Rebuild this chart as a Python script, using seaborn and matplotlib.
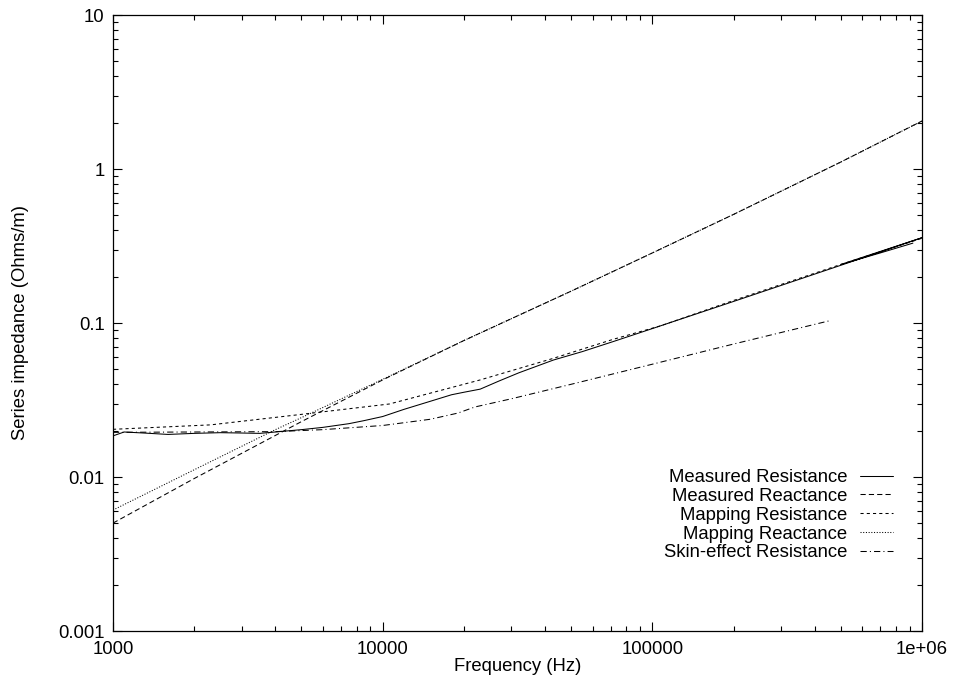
import numpy as np
import pandas as pd
import matplotlib
matplotlib.use("Agg")
import matplotlib.pyplot as plt
import seaborn as sns
from matplotlib.ticker import LogLocator, NullFormatter

# ---- data ----
meas_res_f = [1000, 1100, 1300, 1600, 2000, 2500, 3000, 3500, 4000, 5000, 6000,
              7500, 8500, 10000, 12000, 15000, 18000, 20000, 23000, 27000, 32000,
              43000, 55000, 72000, 100000, 200000, 500000, 1000000,
              500000, 700000, 925000]
meas_res_v = [0.0185, 0.0196, 0.0193, 0.0189, 0.0192, 0.0194, 0.0193, 0.0192, 0.0196,
              0.0203, 0.0210, 0.0222, 0.0232, 0.0247, 0.0275, 0.0310, 0.0342, 0.0355,
              0.0372, 0.0420, 0.0475, 0.0575, 0.0652, 0.0760, 0.0920, 0.1380, 0.2370,
              0.3580, 0.2400, 0.2850, 0.3300]

meas_x_f = [1000, 2000, 5000, 10000, 20000, 50000, 100000, 200000, 500000, 1000000]
meas_x_v = [0.00502, 0.00977, 0.0229, 0.0427, 0.0769, 0.161, 0.285, 0.507, 1.11, 2.05]

map_res_f = [1000, 2300, 4800, 10600, 23000, 43000, 71500, 107000, 200000, 500000, 1000000]
map_res_v = [0.0204, 0.0218, 0.0253, 0.0298, 0.0427, 0.0590, 0.0783, 0.0957, 0.1400,
             0.2400, 0.3550]

map_x_f = [1000, 2000, 4000, 5000, 10000, 20000, 50000, 100000, 200000, 500000, 1000000]
map_x_v = [0.0061, 0.01114, 0.0203, 0.0243, 0.0431, 0.0769, 0.161, 0.285, 0.507, 1.11, 2.05]

skin_f = [1000, 2000, 4000, 6000, 10000, 15000, 19000, 22000, 30000, 50000, 100000,
          200000, 455000]
skin_v = [0.0195, 0.0196, 0.0197, 0.0203, 0.0216, 0.0237, 0.0260, 0.0285, 0.0322,
          0.0400, 0.0540, 0.0730, 0.1035]

x_ticks = [1000, 10000, 100000, 1000000]
x_tick_labels = ["1000", "10000", "100000", "1e+06"]
y_ticks = [0.001, 0.01, 0.1, 1, 10]
y_tick_labels = ["0.001", "0.01", "0.1", "1", "10"]

series = [
    ("Measured Resistance", meas_res_f, meas_res_v, "-"),
    ("Measured Reactance", meas_x_f, meas_x_v, (0, (5, 3))),
    ("Mapping Resistance", map_res_f, map_res_v, (0, (3, 3))),
    ("Mapping Reactance", map_x_f, map_x_v, (0, (1, 1.6))),
    ("Skin-effect Resistance", skin_f, skin_v, (0, (6, 3, 1, 3))),
]

sns.set_theme(style="white")
plt.rcParams["font.family"] = ["Liberation Sans", "DejaVu Sans"]
plt.rcParams["lines.scale_dashes"] = True
plt.rcParams["text.color"] = "black"
plt.rcParams["axes.labelcolor"] = "black"
plt.rcParams["xtick.color"] = "black"
plt.rcParams["ytick.color"] = "black"

FS = 13.3

fig = plt.figure(figsize=(9.59, 6.79), dpi=100)
ax = fig.add_axes([113 / 959, 1 - 631 / 679, (922 - 113) / 959, (631 - 15) / 679])

lw = 0.75
for name, f, v, ls in series:
    df = pd.DataFrame({"f": f, "v": v})
    sns.lineplot(data=df, x="f", y="v", ax=ax, sort=False, estimator=None,
                 color="black", linewidth=lw, linestyle=ls, label=name)

ax.set_xscale("log")
ax.set_yscale("log")
ax.set_xlim(1000, 1e6)
ax.set_ylim(0.001, 10)

ax.set_xticks(x_ticks)
ax.set_xticklabels(x_tick_labels)
ax.set_yticks(y_ticks)
ax.set_yticklabels(y_tick_labels)
ax.xaxis.set_minor_locator(LogLocator(base=10, subs=np.arange(2, 10)))
ax.yaxis.set_minor_locator(LogLocator(base=10, subs=np.arange(2, 10)))
ax.xaxis.set_minor_formatter(NullFormatter())
ax.yaxis.set_minor_formatter(NullFormatter())

ax.tick_params(which="both", direction="in", top=True, right=True,
               bottom=True, left=True, colors="black", labelsize=FS)
ax.tick_params(which="major", length=6.5, width=0.8)
ax.tick_params(axis="x", which="major", pad=7)
ax.tick_params(axis="y", which="major", pad=6)
ax.tick_params(which="minor", length=3.3, width=0.8)

for s in ax.spines.values():
    s.set_color("black")
    s.set_linewidth(0.9)

ax.set_xlabel("Frequency (Hz)", fontsize=FS, labelpad=0, color="black")
ax.set_ylabel("Series impedance (Ohms/m)", fontsize=FS, labelpad=21, color="black")

leg = ax.legend(loc="upper right", bbox_to_anchor=((893 - 113) / 809, (631 - 469) / 616),
                frameon=False, markerfirst=False, fontsize=FS, handlelength=1.77,
                handletextpad=0.7, labelspacing=0.1, borderpad=0, borderaxespad=0,
                labelcolor="black")

fig.savefig("out.png", dpi=100, facecolor="white")
